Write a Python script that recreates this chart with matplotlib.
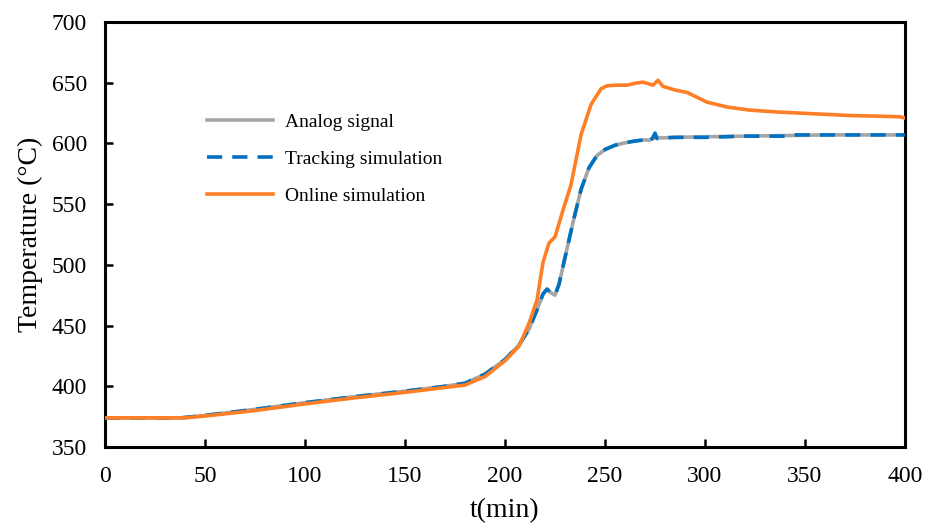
import matplotlib
matplotlib.use("Agg")
import matplotlib.pyplot as plt

# ---- data ----
t_analog = [0, 38, 50, 75, 100, 125, 150, 170, 180, 190, 200, 207, 212, 216, 219, 221,
            223, 225, 227, 230, 234, 238, 242, 246, 250, 255, 260, 265, 270, 272,
            274, 276, 278, 285, 300, 320, 340, 360, 380, 400]
T_analog = [374, 374, 376, 381, 386.5, 391.5, 396, 400, 402.5, 410, 422, 434, 447, 463, 476, 480,
            477, 475, 484, 506, 535, 562, 580, 590, 595, 598.5, 600.5, 602, 603, 602.5,
            604, 605, 604.5, 605, 605.5, 606, 606.5, 607, 607, 607]

t_tracking = [0, 38, 50, 75, 100, 125, 150, 170, 180, 190, 200, 207, 212, 216, 219, 221,
              223, 225, 227, 230, 234, 238, 242, 246, 250, 255, 260, 265, 270, 272,
              274, 275, 276, 278, 285, 300, 320, 340, 345, 360, 380, 400]
T_tracking = [374, 374, 376, 381, 386.5, 391.5, 396, 400, 402.5, 410, 422, 434, 447, 463, 476, 480,
              477, 475, 484, 506, 535, 562, 580, 590, 595, 598.5, 600.5, 602, 603, 601,
              605, 608.5, 604, 604.5, 605, 605, 606, 606, 607, 607, 607, 607]

t_online = [0, 40, 50, 75, 100, 125, 150, 170, 180, 190, 200, 207, 212, 216, 219, 222,
            225, 229, 233, 238, 243, 248, 251, 256, 261, 265, 269, 272, 274, 276.5,
            279, 285, 291, 296, 301, 311, 322, 335, 347, 360, 372, 385, 397, 400]
T_online = [374, 374, 375.5, 380, 385.5, 390.5, 395, 399, 401, 408, 421, 433, 452, 471, 502, 518,
            523, 545, 566, 607, 632, 645, 647.5, 648, 648, 649.5, 650.5, 649, 648, 652,
            647, 644, 642, 638, 634, 630, 627.5, 626, 625, 624, 623, 622.5, 622, 621]

xticks = [0, 50, 100, 150, 200, 250, 300, 350, 400]
yticks = [350, 400, 450, 500, 550, 600, 650, 700]

plt.rcParams['font.family'] = ['Liberation Serif', 'DejaVu Serif']

fig = plt.figure(figsize=(9.27, 5.29), dpi=100)
ax = fig.add_axes([105/927, 1-447/529, 800/927, 425/529])

ax.plot(t_analog, T_analog, color='#A5A5A5', lw=2.6, label='Analog signal', zorder=2)
ax.plot(t_tracking, T_tracking, color='#0070C0', lw=2.6, linestyle=(0, (4.2, 2.8)),
        label='Tracking simulation', zorder=3)
ax.plot(t_online, T_online, color='#FF7F27', lw=2.6, label='Online simulation', zorder=4)

ax.set_xlim(0, 400)
ax.set_ylim(350, 700)
ax.set_xticks(xticks)
ax.set_yticks(yticks)
ax.tick_params(direction='in', length=6, width=1.8, labelsize=17)
ax.tick_params(axis='x', pad=14)
ax.tick_params(axis='y', pad=13)
for s in ax.spines.values():
    s.set_linewidth(2.2)

ax.set_xlabel('t(min)', fontsize=20, labelpad=8)
ax.set_ylabel('Temperature (°C)', fontsize=20, labelpad=6)

leg = ax.legend(loc='upper left', bbox_to_anchor=(0.1275, 0.785), frameon=False,
                fontsize=14, handlelength=3.4, handletextpad=0.6, labelspacing=1.0,
                borderpad=0, borderaxespad=0)

fig.savefig('out.png', dpi=100)
